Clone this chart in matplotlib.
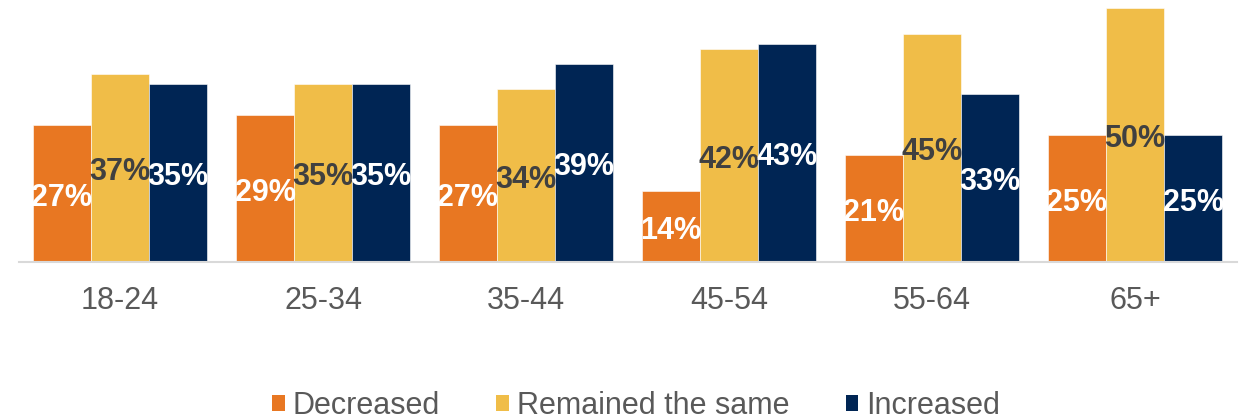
import numpy as np
import matplotlib
matplotlib.use("Agg")
import matplotlib.pyplot as plt
from matplotlib.patches import Patch

plt.rcParams["font.family"] = ["Liberation Sans", "DejaVu Sans"]

age_groups = ["18-24", "25-34", "35-44", "45-54", "55-64", "65+"]
series_names = ["Decreased", "Remained the same", "Increased"]
decreased = [27, 29, 27, 14, 21, 25]
remained = [37, 35, 34, 42, 45, 50]
increased = [35, 35, 39, 43, 33, 25]

COLORS = ["#E87722", "#F0BD48", "#002554"]
LABEL_COLORS = ["white", "#404040", "white"]
GREY_TEXT = "#595959"

fig = plt.figure(figsize=(12.43, 4.19), dpi=100)
ax = fig.add_axes([18.5 / 1243, 1 - 262 / 419, 1218 / 1243, 262 / 419])

x = np.arange(len(age_groups))
width = 0.286
for i, (vals, col, lcol) in enumerate(zip([decreased, remained, increased], COLORS, LABEL_COLORS)):
    pos = x + (i - 1) * width
    ax.bar(pos, vals, width=width, color=col, edgecolor="white", linewidth=0.4)
    for xp, v in zip(pos, vals):
        ax.annotate(f"{v}%", (xp, v / 2), xytext=(0, -3), textcoords="offset points",
                    ha="center", va="center", fontsize=22, fontweight="bold", color=lcol)

ax.set_xlim(-0.5, len(age_groups) - 0.5)
ax.set_ylim(0, 51.6)
ax.set_xticks(x)
ax.set_xticklabels(age_groups, fontsize=22, color=GREY_TEXT)
ax.tick_params(axis="x", length=0, pad=17)
ax.set_yticks([])
for s in ["top", "left", "right"]:
    ax.spines[s].set_visible(False)
ax.spines["bottom"].set_color("#d9d9d9")
ax.spines["bottom"].set_linewidth(1.5)

handles = [Patch(facecolor=c, edgecolor="none", label=n) for c, n in zip(COLORS, series_names)]
leg = fig.legend(handles=handles, loc="center", bbox_to_anchor=(636 / 1243, 1 - 406 / 419),
                 ncol=3, frameon=False, fontsize=22, handlelength=0.42, handleheight=0.42,
                 handletextpad=0.26, columnspacing=1.84, borderaxespad=0, borderpad=0)
for t in leg.get_texts():
    t.set_color(GREY_TEXT)

fig.savefig("out.png", dpi=100)
